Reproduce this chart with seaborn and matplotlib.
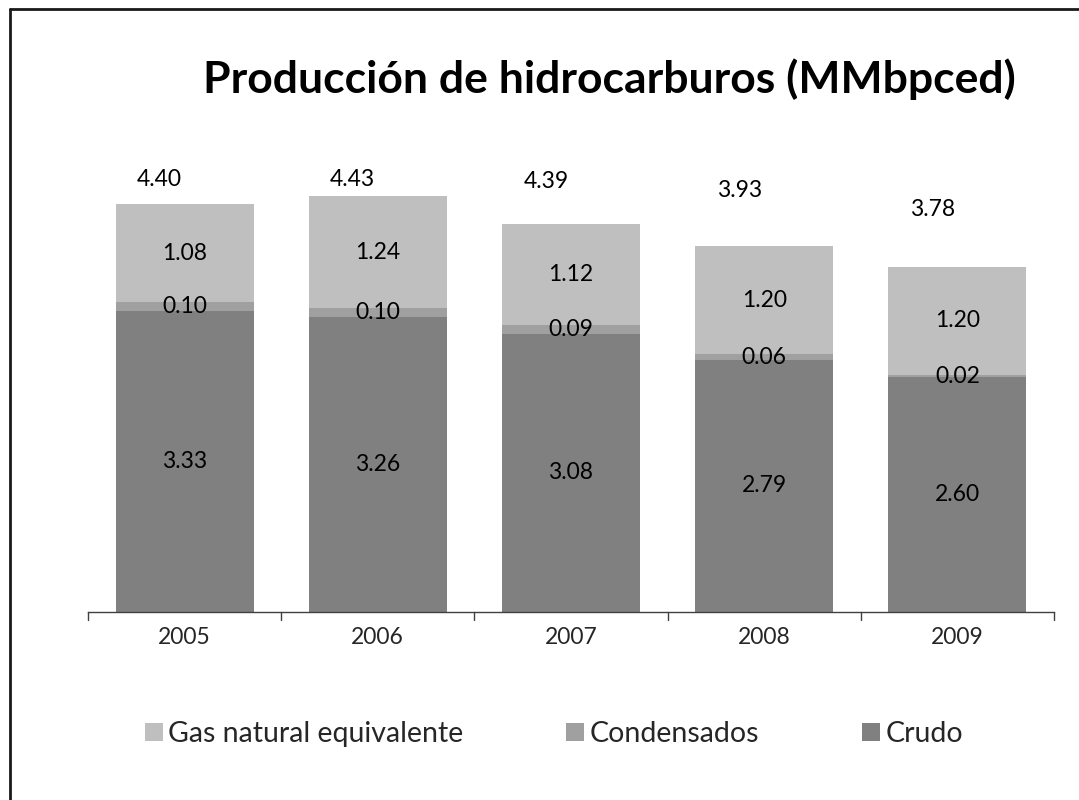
import matplotlib
matplotlib.use("Agg")
import matplotlib.pyplot as plt
import seaborn as sns
import pandas as pd
from matplotlib.patches import Patch
from matplotlib.lines import Line2D

years = ["2005", "2006", "2007", "2008", "2009"]
crudo = [3.33, 3.26, 3.08, 2.79, 2.60]
condensados = [0.10, 0.10, 0.09, 0.06, 0.02]
gas = [1.08, 1.24, 1.12, 1.20, 1.20]
totals = [4.40, 4.43, 4.39, 3.93, 3.78]
total_label_y = [4.78, 4.78, 4.76, 4.66, 4.45]

series_names = ["Gas natural equivalente", "Condensados", "Crudo"]
colors = {"Gas natural equivalente": "#BFBFBF", "Condensados": "#A0A0A0", "Crudo": "#808080"}

sns.set_theme(style="white")
plt.rcParams["font.family"] = ["Lato", "DejaVu Sans"]

W, H = 1079, 800
fig = plt.figure(figsize=(W / 100, H / 100), dpi=100)
ax = fig.add_axes([88 / W, (H - 612) / H, (1054 - 88) / W, 452 / H])

df = pd.DataFrame({"year": years, "crudo": crudo, "cond": condensados, "gas": gas})
bottom_cond = [c for c in crudo]
bottom_gas = [c + d for c, d in zip(crudo, condensados)]

bw = 0.715
sns.barplot(data=df, x="year", y="crudo", color=colors["Crudo"], width=bw,
            saturation=1, ax=ax, linewidth=0)
sns.barplot(data=df, x="year", y="cond", color=colors["Condensados"], width=bw,
            saturation=1, ax=ax, linewidth=0, bottom=bottom_cond)
sns.barplot(data=df, x="year", y="gas", color=colors["Gas natural equivalente"], width=bw,
            saturation=1, ax=ax, linewidth=0, bottom=bottom_gas)

fs = 16.5
for i in range(len(years)):
    ax.text(i, crudo[i] / 2, f"{crudo[i]:.2f}", ha="center", va="center", fontsize=fs, color="black")
    ax.text(i, crudo[i] + condensados[i] / 2, f"{condensados[i]:.2f}", ha="center", va="center",
            fontsize=fs, color="black")
    ax.text(i, bottom_gas[i] + gas[i] / 2, f"{gas[i]:.2f}", ha="center", va="center",
            fontsize=fs, color="black")
    ax.text(i - 0.13, total_label_y[i], f"{totals[i]:.2f}", ha="center", va="center",
            fontsize=fs, color="black")

ax.set_xlim(-0.5, len(years) - 0.5)
ax.set_ylim(0, 5)
ax.set_xlabel("")
ax.set_ylabel("")
ax.set_yticks([])
for s in ["top", "right", "left"]:
    ax.spines[s].set_visible(False)
ax.spines["bottom"].set_color("#404040")
ax.spines["bottom"].set_linewidth(1.0)
ax.set_xticks(range(len(years)))
ax.set_xticklabels(years, fontsize=fs)
ax.tick_params(axis="x", length=0, pad=11)
# category boundary tick marks
for b in [k - 0.5 for k in range(len(years) + 1)]:
    ax.add_line(Line2D([b, b], [0, -0.09], color="#404040", lw=1.0, clip_on=False))

fig.text(609 / W, 1 - 79 / H, "Producción de hidrocarburos (MMbpced)", ha="center", va="center",
         fontsize=32, fontweight="bold", color="black")

handles = [Patch(facecolor=colors[n], edgecolor="none") for n in series_names]
fig.legend(handles, series_names, loc="center", bbox_to_anchor=(554 / W, 1 - 734 / H),
           ncol=3, frameon=False, fontsize=20.5, handlelength=0.63, handleheight=0.63,
           handletextpad=0.2, columnspacing=3.6)

# chart frame (top and left edges visible)
fig.add_artist(Line2D([9.5 / W, 9.5 / W], [0, 1 - 9 / H], transform=fig.transFigure, color="#1a1a1a", lw=2))
fig.add_artist(Line2D([9.5 / W, 1], [1 - 9 / H, 1 - 9 / H], transform=fig.transFigure, color="#1a1a1a", lw=2))

fig.savefig("out.png", dpi=100)
